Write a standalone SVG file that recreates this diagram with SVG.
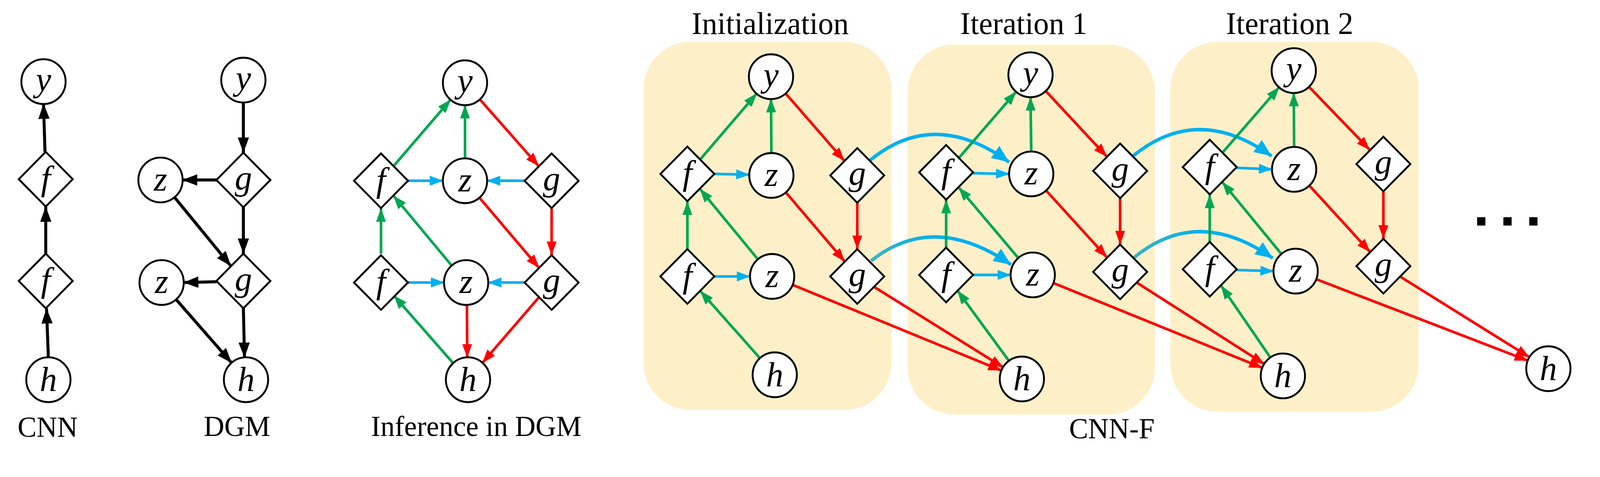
<svg xmlns="http://www.w3.org/2000/svg" width="4246" height="1221" viewBox="0 0 4246 1221">
<style>
.n circle{fill:#fff;stroke:#000;stroke-width:5}
.n path{fill:#fff;stroke:#000;stroke-width:5}
.n text{font-family:"Liberation Serif",serif;font-style:italic;font-size:92px;text-anchor:middle}
.lbl{font-family:"Liberation Serif",serif;font-size:76px;text-anchor:middle}
.ttl{font-family:"Liberation Serif",serif;font-size:82px;text-anchor:middle}
.k{stroke:#000;stroke-width:8;fill:none;marker-end:url(#ak)}
.gr{stroke:#00a651;stroke-width:7;fill:none;marker-end:url(#ag)}
.rd{stroke:#ff0000;stroke-width:7;fill:none;marker-end:url(#ar)}
.bl{stroke:#00b0f0;stroke-width:7;fill:none;marker-end:url(#ab)}
.arc{stroke:#00b0f0;stroke-width:9;fill:none;marker-end:url(#aB)}
.arc2{stroke:url(#tb);stroke-width:9;fill:none;marker-end:url(#aB)}
.box{fill:#fdf0c9}
</style>
<defs>
<marker id="ak" markerUnits="userSpaceOnUse" markerWidth="40" markerHeight="40" viewBox="0 0 32 24" refX="32" refY="12" orient="auto"><path d="M0,0L32,12L0,24z" fill="#000"/></marker>
<marker id="ag" markerUnits="userSpaceOnUse" markerWidth="36" markerHeight="36" viewBox="0 0 30 22" refX="30" refY="11" orient="auto"><path d="M0,0L30,11L0,22z" fill="#00a651"/></marker>
<marker id="ar" markerUnits="userSpaceOnUse" markerWidth="36" markerHeight="36" viewBox="0 0 30 22" refX="30" refY="11" orient="auto"><path d="M0,0L30,11L0,22z" fill="#ff0000"/></marker>
<marker id="ab" markerUnits="userSpaceOnUse" markerWidth="36" markerHeight="36" viewBox="0 0 30 22" refX="30" refY="11" orient="auto"><path d="M0,0L30,11L0,22z" fill="#00b0f0"/></marker>
<marker id="aB" markerUnits="userSpaceOnUse" markerWidth="46" markerHeight="46" viewBox="0 0 40 34" refX="40" refY="17" orient="auto"><path d="M0,0L40,17L0,34z" fill="#00b0f0"/></marker>
<linearGradient id="tb" x1="0" y1="0" x2="1" y2="0"><stop offset="0" stop-color="#3bb3c3"/><stop offset="0.5" stop-color="#00b0f0"/></linearGradient>
</defs>
<g transform="scale(0.96 0.972)">
<g id="boxes">
<rect class="box" x="1716" y="110" width="661" height="970" rx="125"/>
<rect class="box" x="2420" y="117" width="660" height="975" rx="125"/>
<rect class="box" x="3121" y="110" width="662" height="974" rx="125"/>
</g>

<g id="labels">
<text class="lbl" x="127" y="1150">CNN</text>
<text class="lbl" x="632" y="1148">DGM</text>
<text class="lbl" x="1270" y="1148">Inference in DGM</text>
<text class="ttl" x="2054" y="90">Initialization</text>
<text class="ttl" x="2730" y="90">Iteration 1</text>
<text class="ttl" x="3439" y="90">Iteration 2</text>
<text class="lbl" x="2965" y="1154">CNN-F</text>
<rect x="3939" y="572" width="22" height="22"/>
<rect x="4009" y="572" width="22" height="22"/>
<rect x="4078" y="572" width="22" height="22"/>
</g>

<g id="connectors">
<line class="k" x1="120" y1="400" x2="116" y2="273"/>
<line class="k" x1="122" y1="668" x2="122" y2="544"/>
<line class="k" x1="129" y1="942" x2="124" y2="812"/>
<line class="k" x1="649" y1="269" x2="649" y2="402"/>
<line class="k" x1="577" y1="474" x2="486" y2="474"/>
<line class="k" x1="649" y1="546" x2="649" y2="668"/>
<line class="k" x1="465" y1="519" x2="616" y2="701"/>
<line class="k" x1="577" y1="742" x2="489" y2="744"/>
<line class="k" x1="469" y1="788" x2="618" y2="956"/>
<line class="k" x1="649" y1="812" x2="652" y2="942"/>
<line class="gr" x1="1049" y1="438" x2="1202" y2="262"/>
<line class="gr" x1="1240" y1="418" x2="1240" y2="276"/>
<line class="rd" x1="1279" y1="261" x2="1437" y2="438"/>
<line class="bl" x1="1088" y1="476" x2="1182" y2="476"/>
<line class="bl" x1="1399" y1="476" x2="1298" y2="476"/>
<line class="rd" x1="1471" y1="548" x2="1471" y2="672"/>
<line class="rd" x1="1278" y1="520" x2="1438" y2="706"/>
<line class="gr" x1="1016" y1="668" x2="1016" y2="548"/>
<line class="gr" x1="1205" y1="700" x2="1049" y2="515"/>
<line class="bl" x1="1088" y1="744" x2="1185" y2="744"/>
<line class="bl" x1="1399" y1="744" x2="1301" y2="744"/>
<line class="gr" x1="1209" y1="957" x2="1050" y2="778"/>
<line class="rd" x1="1245" y1="802" x2="1246" y2="942"/>
<line class="rd" x1="1438" y1="782" x2="1286" y2="956"/>
<line class="gr" x1="1867" y1="420" x2="2018" y2="246"/>
<line class="gr" x1="2057" y1="404" x2="2056" y2="260"/>
<line class="rd" x1="2094" y1="245" x2="2252" y2="424"/>
<line class="bl" x1="1905" y1="458" x2="1999" y2="460"/>
<line class="rd" x1="2286" y1="534" x2="2286" y2="656"/>
<line class="rd" x1="2095" y1="506" x2="2253" y2="689"/>
<line class="gr" x1="1833" y1="656" x2="1833" y2="530"/>
<line class="gr" x1="2022" y1="684" x2="1866" y2="497"/>
<line class="bl" x1="1905" y1="728" x2="2001" y2="728"/>
<line class="gr" x1="2027" y1="944" x2="1867" y2="766"/>
<line class="rd" x1="2113" y1="750" x2="2671" y2="976"/>
<line class="rd" x1="2330" y1="755" x2="2676" y2="968"/>
<path class="arc" d="M2319,423 Q2490,283 2691,427"/>
<path class="arc2" d="M2323,687 Q2490,556 2696,697"/>
<line class="gr" x1="2557" y1="416" x2="2710" y2="241"/>
<line class="gr" x1="2750" y1="400" x2="2748" y2="255"/>
<line class="rd" x1="2788" y1="239" x2="2952" y2="413"/>
<line class="bl" x1="2595" y1="456" x2="2692" y2="458"/>
<line class="rd" x1="2987" y1="522" x2="2987" y2="644"/>
<line class="rd" x1="2789" y1="501" x2="2952" y2="678"/>
<line class="gr" x1="2523" y1="652" x2="2523" y2="526"/>
<line class="gr" x1="2716" y1="680" x2="2556" y2="493"/>
<line class="bl" x1="2595" y1="724" x2="2696" y2="724"/>
<line class="gr" x1="2691" y1="951" x2="2553" y2="765"/>
<line class="rd" x1="2808" y1="745" x2="3367" y2="969"/>
<line class="rd" x1="3031" y1="744" x2="3372" y2="959"/>
<path class="arc" d="M3020,412 Q3192,271 3391,411"/>
<path class="arc2" d="M3022,680 Q3192,540 3394,680"/>
<line class="gr" x1="3260" y1="402" x2="3412" y2="229"/>
<line class="gr" x1="3451" y1="388" x2="3450" y2="244"/>
<line class="rd" x1="3490" y1="228" x2="3653" y2="395"/>
<line class="bl" x1="3298" y1="442" x2="3393" y2="446"/>
<line class="rd" x1="3689" y1="504" x2="3689" y2="629"/>
<line class="rd" x1="3491" y1="488" x2="3654" y2="664"/>
<line class="gr" x1="3226" y1="637" x2="3226" y2="512"/>
<line class="gr" x1="3418" y1="670" x2="3259" y2="479"/>
<line class="bl" x1="3298" y1="711" x2="3397" y2="714"/>
<line class="gr" x1="3388" y1="942" x2="3256" y2="752"/>
<line class="rd" x1="3509" y1="735" x2="4075" y2="950"/>
<line class="rd" x1="3733" y1="728" x2="4079" y2="941"/>
</g>

<g id="cnn_y" class="n"><circle cx="116" cy="215" r="59"/><text x="116" y="240">y</text></g>
<g id="cnn_f1" class="n"><path d="M122,400L194,472L122,544L50,472z"/><text x="122" y="500">f</text></g>
<g id="cnn_f2" class="n"><path d="M122,668L194,740L122,812L50,740z"/><text x="122" y="768">f</text></g>
<g id="cnn_h" class="n"><circle cx="129" cy="1000" r="59"/><text x="129" y="1030">h</text></g>
<g id="dgm_y" class="n"><circle cx="649" cy="211" r="59"/><text x="649" y="236">y</text></g>
<g id="dgm_g1" class="n"><path d="M649,402L721,474L649,546L577,474z"/><text x="649" y="499">g</text></g>
<g id="dgm_z1" class="n"><circle cx="428" cy="474" r="59"/><text x="428" y="502">z</text></g>
<g id="dgm_g2" class="n"><path d="M649,668L721,740L649,812L577,740z"/><text x="649" y="765">g</text></g>
<g id="dgm_z2" class="n"><circle cx="431" cy="744" r="59"/><text x="431" y="772">z</text></g>
<g id="dgm_h" class="n"><circle cx="656" cy="1000" r="59"/><text x="656" y="1030">h</text></g>
<g id="inf_y" class="n"><circle cx="1240" cy="218" r="59"/><text x="1240" y="243">y</text></g>
<g id="inf_f1" class="n"><path d="M1016,404L1088,476L1016,548L944,476z"/><text x="1016" y="504">f</text></g>
<g id="inf_z1" class="n"><circle cx="1240" cy="476" r="59"/><text x="1240" y="504">z</text></g>
<g id="inf_g1" class="n"><path d="M1471,404L1543,476L1471,548L1399,476z"/><text x="1471" y="501">g</text></g>
<g id="inf_f2" class="n"><path d="M1016,672L1088,744L1016,816L944,744z"/><text x="1016" y="772">f</text></g>
<g id="inf_z2" class="n"><circle cx="1243" cy="744" r="59"/><text x="1243" y="772">z</text></g>
<g id="inf_g2" class="n"><path d="M1471,672L1543,744L1471,816L1399,744z"/><text x="1471" y="769">g</text></g>
<g id="inf_h" class="n"><circle cx="1248" cy="1000" r="59"/><text x="1248" y="1030">h</text></g>
<g id="i0_y" class="n"><circle cx="2056" cy="202" r="59"/><text x="2056" y="227">y</text></g>
<g id="i0_f1" class="n"><path d="M1833,386L1905,458L1833,530L1761,458z"/><text x="1833" y="486">f</text></g>
<g id="i0_z1" class="n"><circle cx="2057" cy="462" r="59"/><text x="2057" y="490">z</text></g>
<g id="i0_g1" class="n"><path d="M2286,390L2358,462L2286,534L2214,462z"/><text x="2286" y="487">g</text></g>
<g id="i0_f2" class="n"><path d="M1833,656L1905,728L1833,800L1761,728z"/><text x="1833" y="756">f</text></g>
<g id="i0_z2" class="n"><circle cx="2059" cy="728" r="59"/><text x="2059" y="756">z</text></g>
<g id="i0_g2" class="n"><path d="M2286,656L2358,728L2286,800L2214,728z"/><text x="2286" y="753">g</text></g>
<g id="i0_h" class="n"><circle cx="2066" cy="987" r="59"/><text x="2066" y="1017">h</text></g>
<g id="i1_y" class="n"><circle cx="2748" cy="197" r="59"/><text x="2748" y="222">y</text></g>
<g id="i1_f1" class="n"><path d="M2523,382L2595,454L2523,526L2451,454z"/><text x="2523" y="482">f</text></g>
<g id="i1_z1" class="n"><circle cx="2750" cy="458" r="59"/><text x="2750" y="486">z</text></g>
<g id="i1_g1" class="n"><path d="M2987,378L3059,450L2987,522L2915,450z"/><text x="2987" y="475">g</text></g>
<g id="i1_f2" class="n"><path d="M2523,652L2595,724L2523,796L2451,724z"/><text x="2523" y="752">f</text></g>
<g id="i1_z2" class="n"><circle cx="2754" cy="724" r="59"/><text x="2754" y="752">z</text></g>
<g id="i1_g2" class="n"><path d="M2987,644L3059,716L2987,788L2915,716z"/><text x="2987" y="741">g</text></g>
<g id="i1_h" class="n"><circle cx="2725" cy="998" r="59"/><text x="2725" y="1028">h</text></g>
<g id="i2_y" class="n"><circle cx="3450" cy="186" r="59"/><text x="3450" y="211">y</text></g>
<g id="i2_f1" class="n"><path d="M3226,368L3298,440L3226,512L3154,440z"/><text x="3226" y="468">f</text></g>
<g id="i2_z1" class="n"><circle cx="3451" cy="446" r="59"/><text x="3451" y="474">z</text></g>
<g id="i2_g1" class="n"><path d="M3689,360L3761,432L3689,504L3617,432z"/><text x="3689" y="457">g</text></g>
<g id="i2_f2" class="n"><path d="M3226,637L3298,709L3226,781L3154,709z"/><text x="3226" y="737">f</text></g>
<g id="i2_z2" class="n"><circle cx="3455" cy="714" r="59"/><text x="3455" y="742">z</text></g>
<g id="i2_g2" class="n"><path d="M3689,629L3761,701L3689,773L3617,701z"/><text x="3689" y="726">g</text></g>
<g id="i2_h" class="n"><circle cx="3421" cy="990" r="59"/><text x="3421" y="1020">h</text></g>
<g id="hx" class="n"><circle cx="4129" cy="971" r="59"/><text x="4129" y="1001">h</text></g>
</g>
</svg>
